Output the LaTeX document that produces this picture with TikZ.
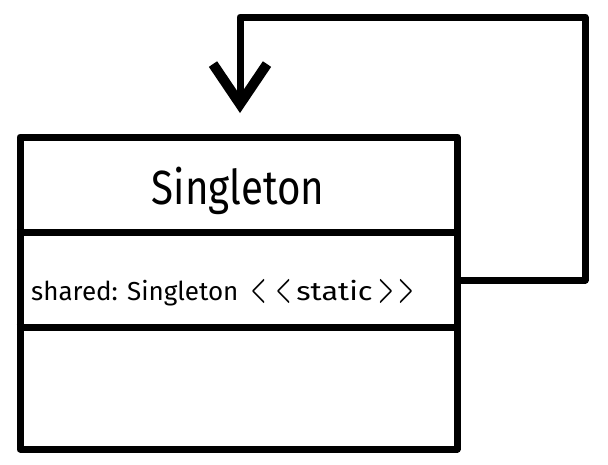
\documentclass[tikz,border=0pt]{standalone}
\usepackage{fontspec}
\setmainfont{Fira Sans}
\usetikzlibrary{arrows.meta}
\usepackage{amsmath}
\newcommand{\angglyph}[2]{\makebox[#1][c]{\scalebox{0.68}[1.45]{$\boldsymbol{#2}$}}}
\tikzset{
  thickline/.style={line width=7pt, line cap=round, line join=round},
  divider/.style={line width=7pt, line cap=butt},
  classbox/.style={draw, thickline, rectangle, minimum width=437pt, minimum height=312pt, inner sep=0pt},
  titletext/.style={font=\fontsize{48}{52}\selectfont, inner sep=0pt, anchor=base},
  attrtext/.style={font=\fontsize{26}{30}\selectfont, inner sep=0pt, anchor=base west},
  conn/.style={thickline, -{Straight Barb[length=40pt,width=54pt,line width=10pt]}}
}
\begin{document}
\begin{tikzpicture}[x=1pt,y=-1pt]
\useasboundingbox (0,0) rectangle (608,464);
\node[classbox] (cls) at (238.5,293) {};
\draw[divider] (cls.west |- 0,232) -- (cls.east |- 0,232);
\draw[divider] (cls.west |- 0,327) -- (cls.east |- 0,327);
\node[titletext] (title) at (238,204) {\scalebox{0.84}[1]{Singleton}};
\node[attrtext] (attr) at (31,300) {shared: Singleton\kern14pt\angglyph{12pt}{<}\kern13pt\angglyph{12pt}{<}\kern1pt\makebox[88pt][c]{\scalebox{1.18}[1]{static}}\kern0pt\angglyph{15pt}{>}\kern7pt\angglyph{11pt}{>}};
\coordinate (c1) at (585,280);
\coordinate (c2) at (585,17);
\coordinate (c3) at (240,17);
\coordinate (tip) at (240,113);
\draw[conn] (cls.east |- c1) -- (c1) -- (c2) -- (c3) -- (tip);
\end{tikzpicture}
\end{document}
